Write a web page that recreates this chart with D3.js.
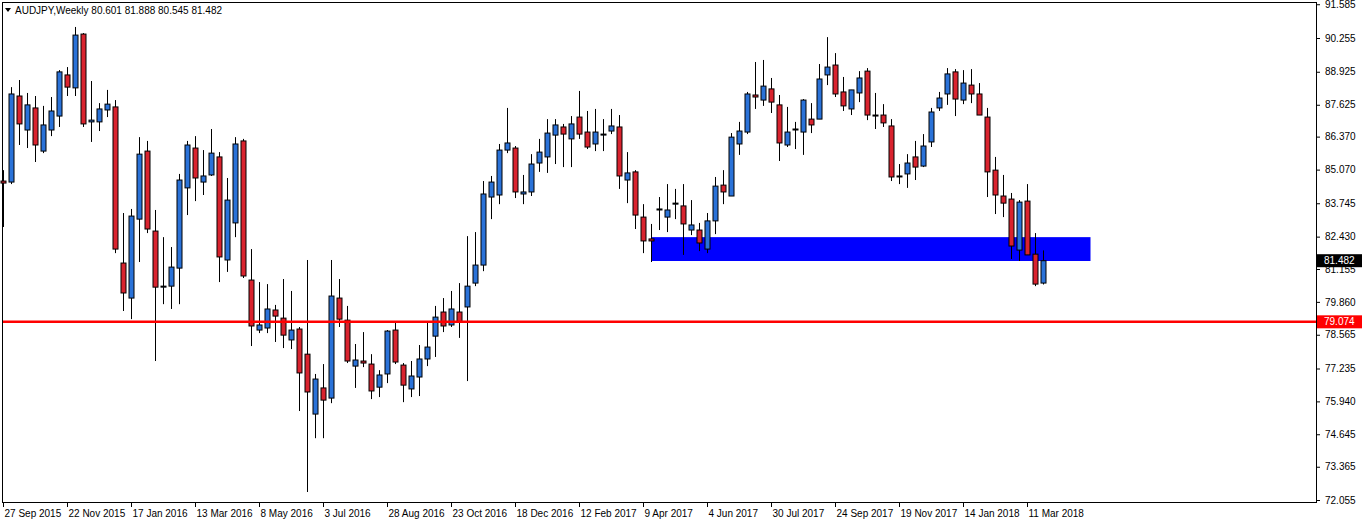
<!DOCTYPE html>
<html>
<head>
<script src="https://d3js.org/d3.v7.min.js"></script>
<style>
  body { margin: 0; background: #fff; font-family: Arial, "Liberation Sans"; }
</style>
</head>
<body>
<div id="chart"></div>
<script>
// weekly candles, week of 27 Sep 2015 onwards: [open, high, low, close]
var candles = [
  [84.62,85.05,82.81,84.54],[84.58,88.32,84.50,88.05],[87.97,88.60,86.04,86.87],[86.63,88.09,85.92,87.62],
  [87.50,87.97,85.37,86.04],[85.80,87.58,85.72,86.83],[86.63,87.93,86.39,87.38],[87.18,88.99,86.75,88.92],
  [88.80,89.11,87.97,88.32],[88.29,90.69,87.97,90.37],[90.41,90.45,86.75,86.87],[86.95,88.56,86.16,87.02],
  [86.95,87.69,86.59,87.46],[87.42,88.21,87.14,87.65],[87.54,87.81,81.78,81.94],[81.39,83.36,79.50,80.21],
  [80.01,83.52,79.18,83.24],[83.12,86.35,81.43,85.68],[85.80,86.20,82.57,82.73],[82.65,83.48,77.53,80.44],
  [80.44,82.41,79.77,80.48],[80.48,82.02,79.58,81.23],[81.19,84.90,79.77,84.66],[84.35,86.20,83.28,86.04],
  [85.92,86.39,83.83,84.74],[84.58,85.84,84.07,84.82],[84.86,86.67,84.82,85.72],[85.57,85.76,80.64,81.63],
  [81.51,84.74,81.04,83.87],[82.97,86.35,82.41,86.08],[86.20,86.28,80.80,80.88],[80.72,81.94,78.12,78.91],
  [78.75,80.64,78.63,78.95],[78.83,80.56,78.63,79.58],[79.54,79.74,78.28,79.30],[79.22,80.76,78.04,78.55],
  [78.36,80.29,78.00,78.75],[78.79,78.87,75.56,77.06],[77.80,81.51,72.37,76.31],[75.44,77.02,74.49,76.82],
  [76.47,77.41,74.49,75.99],[76.07,81.51,75.87,80.09],[80.01,80.76,78.87,79.18],[79.14,79.70,77.45,77.53],
  [77.33,78.20,76.47,77.57],[77.53,78.67,77.29,77.45],[77.41,77.80,76.03,76.35],[76.50,77.17,76.11,76.98],
  [77.02,78.75,76.66,78.71],[78.75,79.03,77.41,77.49],[77.37,77.45,75.91,76.58],[76.43,77.53,76.11,76.94],
  [76.90,78.16,76.15,77.61],[77.61,79.03,77.33,78.08],[78.51,79.70,77.69,79.26],[79.46,80.01,78.67,78.91],
  [78.95,80.29,78.87,79.58],[79.46,80.60,78.44,79.07],[79.66,82.45,76.74,80.48],[80.60,82.61,80.48,81.31],
  [81.31,84.62,81.07,84.11],[83.99,84.82,83.12,84.58],[84.07,86.08,83.71,85.84],[85.84,87.50,85.72,86.12],
  [85.92,86.00,83.95,84.19],[84.11,84.86,83.71,84.19],[84.19,85.68,84.03,85.29],[85.33,86.28,84.98,85.76],
  [85.57,87.06,84.94,86.51],[86.43,87.06,85.29,86.83],[86.75,86.87,85.17,86.47],[86.28,87.18,85.17,86.87],
  [87.14,88.17,86.28,86.47],[86.55,87.38,85.88,85.96],[86.08,87.46,85.80,86.55],[86.47,87.06,85.80,86.47],
  [86.59,87.46,86.47,86.79],[86.75,87.22,84.31,84.82],[84.66,85.76,83.75,84.94],[84.98,85.05,82.73,83.28],
  [83.20,83.71,81.78,82.26],[82.34,82.93,81.43,82.26],[83.48,83.99,82.69,83.52],[83.20,84.50,82.61,83.48],
  [83.71,84.31,83.12,83.75],[83.64,84.50,81.71,82.93],[82.69,83.87,82.49,82.89],[82.69,82.97,81.86,82.18],
  [81.94,83.36,81.78,83.05],[83.05,84.78,82.53,84.42],[84.46,85.05,83.71,84.19],[84.03,86.51,84.03,86.35],
  [86.08,86.95,85.65,86.59],[86.55,88.13,86.47,88.05],[88.01,89.31,87.46,87.93],[87.81,89.39,87.58,88.36],
  [88.25,88.68,87.30,87.73],[87.62,88.01,85.41,86.12],[86.04,87.54,85.96,86.55],[86.67,86.95,85.88,86.67],
  [86.55,87.85,85.65,87.81],[87.06,87.69,86.51,86.83],[87.06,89.23,87.06,88.64],[88.80,90.29,88.40,89.11],
  [89.19,89.66,87.93,88.05],[88.13,88.72,87.38,87.58],[87.46,88.21,87.22,88.21],[88.09,88.95,87.73,88.68],
  [88.95,89.07,87.02,87.22],[87.22,88.09,86.67,87.22],[87.22,87.65,86.75,86.91],[86.79,87.06,84.62,84.78],
  [84.82,85.29,84.50,84.82],[84.90,85.68,84.35,85.33],[85.57,86.20,84.66,85.17],[85.21,86.47,85.17,86.00],
  [86.16,87.50,85.96,87.34],[87.50,88.13,87.38,87.89],[88.05,89.07,87.62,88.84],[88.92,89.03,87.18,87.85],
  [87.81,88.99,87.65,88.48],[88.40,89.03,87.69,88.05],[88.05,88.48,87.22,87.22],[87.14,87.50,83.99,84.98],
  [85.05,85.57,83.32,84.07],[84.03,84.86,83.20,83.75],[83.91,84.15,81.55,82.06],[81.90,83.87,81.47,83.79],
  [83.83,84.50,81.71,81.71],[81.74,82.57,80.48,80.56],[80.601,81.888,80.545,81.482]
];
var priceTicks = [91.585,90.255,88.925,87.625,86.370,85.070,83.745,82.430,81.155,79.860,78.565,77.235,75.940,74.645,73.365,72.055];
var dateLabels = ["27 Sep 2015","22 Nov 2015","17 Jan 2016","13 Mar 2016","8 May 2016","3 Jul 2016","28 Aug 2016","23 Oct 2016",
  "18 Dec 2016","12 Feb 2017","9 Apr 2017","4 Jun 2017","30 Jul 2017","24 Sep 2017","19 Nov 2017","14 Jan 2018","11 Mar 2018"];
var supportLevel = 79.074;
var zone = {from: 81, to: 135.9, top: 82.41, bottom: 81.47};

var width = 1362, height = 524;
var font = "Arial, 'Liberation Sans'";
var svg = d3.select("#chart").append("svg").attr("width", width).attr("height", height)
  .style("font-family", font);

var x = d3.scaleLinear().domain([0, 130]).range([3.3, 1043.3]);
var y = d3.scaleLinear().domain([72.055, 90.255]).range([500, 38]);

// frame
svg.append("rect").attr("x", 2.5).attr("y", 2.5).attr("width", 1314).attr("height", 500)
  .attr("fill", "none").attr("stroke", "#000");

// zone
svg.append("rect").attr("x", x(zone.from)).attr("y", y(zone.top))
  .attr("width", x(zone.to) - x(zone.from)).attr("height", y(zone.bottom) - y(zone.top)).attr("fill", "#0000ff");

// candles
var g = svg.append("g");
candles.forEach(function (c, i) {
  var cx = Math.round(x(i)) + 0.5;
  var up = c[3] >= c[0];
  g.append("line").attr("x1", cx).attr("x2", cx).attr("y1", y(c[1])).attr("y2", y(c[2]))
    .attr("stroke", "#000").attr("stroke-width", 1);
  var top = y(Math.max(c[0], c[3])), bot = y(Math.min(c[0], c[3]));
  g.append("rect").attr("x", cx - 2.5).attr("y", top).attr("width", 5).attr("height", Math.max(1, bot - top))
    .attr("fill", up ? "#2a72d8" : "#d9232e").attr("stroke", "#000").attr("stroke-width", 1);
});

// support line
svg.append("line").attr("x1", 3).attr("x2", 1316).attr("y1", y(supportLevel)).attr("y2", y(supportLevel))
  .attr("stroke", "#ff0000").attr("stroke-width", 2.5);

// right axis
var axis = svg.append("g").attr("transform", "translate(1316,0)")
  .call(d3.axisRight(y).tickValues(priceTicks).tickSize(4).tickFormat(d3.format(".3f")));
axis.select(".domain").remove();
axis.selectAll("text").attr("font-size", 10).attr("font-family", font).attr("x", 9);

function priceTag(v, fill) {
  svg.append("rect").attr("x", 1317).attr("y", y(v) - 6.5).attr("width", 45).attr("height", 13).attr("fill", fill);
  svg.append("text").attr("x", 1324).attr("y", y(v) + 3.5).attr("fill", "#fff").attr("font-size", 10)
    .text(d3.format(".3f")(v));
}
priceTag(supportLevel, "#ff0000");
priceTag(candles[candles.length - 1][3], "#000");

// bottom axis
dateLabels.forEach(function (d, k) {
  var px = Math.round(x(k * 8)) + 0.5;
  svg.append("line").attr("x1", px).attr("x2", px).attr("y1", 503).attr("y2", 507).attr("stroke", "#000");
  svg.append("text").attr("x", px + 1).attr("y", 517).attr("font-size", 10).attr("fill", "#000").text(d);
});

// header
svg.append("path").attr("d", "M5,8 L11,8 L8,12 Z").attr("fill", "#000");
svg.append("text").attr("x", 15).attr("y", 14).attr("font-size", 10).attr("fill", "#000")
  .text("AUDJPY,Weekly  80.601 81.888 80.545 81.482");
</script>
</body>
</html>
